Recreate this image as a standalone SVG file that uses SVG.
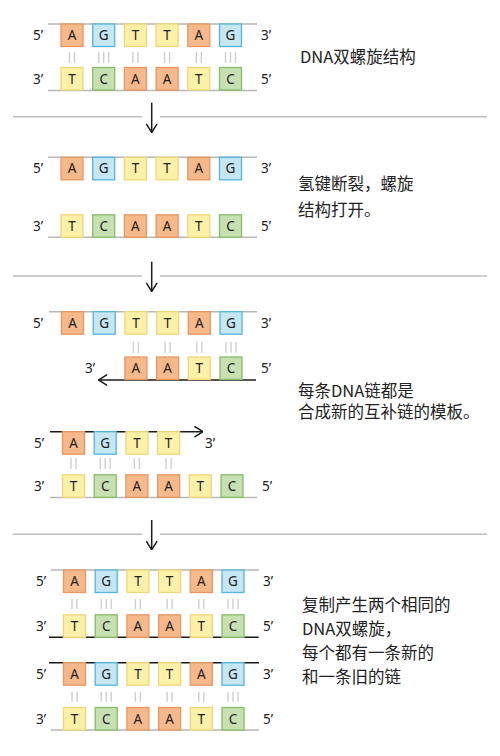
<svg xmlns="http://www.w3.org/2000/svg" width="500" height="756" viewBox="0 0 500 756">
<defs>
<style>
.bg{fill:#ffffff}
.b rect{stroke-width:1.3}
.A rect{fill:#f5b98c;stroke:#e8975f}
.G rect{fill:#c5e6f2;stroke:#55b5d6}
.T rect{fill:#fdf0a8;stroke:#efd777}
.C rect{fill:#c7e0b2;stroke:#88bd68}
.b text{font-family:"Noto Sans","Liberation Sans",sans-serif;font-size:13.5px;fill:#222;text-anchor:middle}
.lbl{font-family:"Noto Sans","Liberation Sans",sans-serif;font-size:13.5px;fill:#222}
.cn{font-family:"Noto Sans CJK SC","Noto Sans",sans-serif;font-size:16.5px;fill:#222}
.strand{stroke:#b7b7b7;stroke-width:1.6;fill:none}
.newstrand{stroke:#1a1a1a;stroke-width:1.6;fill:none}
.sep{stroke:#bdbdbd;stroke-width:1.6;fill:none}
.hb{stroke:#cfcfcf;stroke-width:1.4;fill:none}
.arr{stroke:#1a1a1a;stroke-width:1.5;fill:none}
</style>
<marker id="head" viewBox="0 0 10 12" refX="9.6" refY="6" markerWidth="10" markerHeight="12" markerUnits="userSpaceOnUse" orient="auto">
<path d="M1,0.6 L9.6,6 L1,11.4" fill="none" stroke="#1a1a1a" stroke-width="1.5"/>
</marker>
</defs>
<rect class="bg" width="500" height="756"/>

<g id="connectors">
<path class="sep" d="M13,116.7 H142 M160,116.7 H487"/>
<path class="sep" d="M13,276 H142 M160,276 H487"/>
<path class="sep" d="M13,534.3 H142 M160,534.3 H487"/>
<path class="arr" d="M151.7,102.7 V132.5" marker-end="url(#head)"/>
<path class="arr" d="M151.7,261.7 V291.5" marker-end="url(#head)"/>
<path class="arr" d="M151.7,520 V549.8" marker-end="url(#head)"/>
</g>

<g id="section1">
<path class="strand" d="M48,24 H257 M48,90.5 H257"/>
<path class="hb" d="M69.5,52V63 M74.5,52V63 M98.7,52V63 M103.7,52V63 M108.7,52V63 M132.9,52V63 M137.9,52V63 M164.6,52V63 M169.6,52V63 M196.3,52V63 M201.3,52V63 M225.5,52V63 M230.5,52V63 M235.5,52V63"/>
<g id="s1-top">
<g class="b A" transform="translate(61,24)"><rect width="22" height="22.5"/><text x="11" y="16">A</text></g>
<g class="b G" transform="translate(92.7,24)"><rect width="22" height="22.5"/><text x="11" y="16">G</text></g>
<g class="b T" transform="translate(124.4,24)"><rect width="22" height="22.5"/><text x="11" y="16">T</text></g>
<g class="b T" transform="translate(156.1,24)"><rect width="22" height="22.5"/><text x="11" y="16">T</text></g>
<g class="b A" transform="translate(187.8,24)"><rect width="22" height="22.5"/><text x="11" y="16">A</text></g>
<g class="b G" transform="translate(219.5,24)"><rect width="22" height="22.5"/><text x="11" y="16">G</text></g>
</g>
<g id="s1-bottom">
<g class="b T" transform="translate(61,67.5)"><rect width="22" height="22.5"/><text x="11" y="16">T</text></g>
<g class="b C" transform="translate(92.7,67.5)"><rect width="22" height="22.5"/><text x="11" y="16">C</text></g>
<g class="b A" transform="translate(124.4,67.5)"><rect width="22" height="22.5"/><text x="11" y="16">A</text></g>
<g class="b A" transform="translate(156.1,67.5)"><rect width="22" height="22.5"/><text x="11" y="16">A</text></g>
<g class="b T" transform="translate(187.8,67.5)"><rect width="22" height="22.5"/><text x="11" y="16">T</text></g>
<g class="b C" transform="translate(219.5,67.5)"><rect width="22" height="22.5"/><text x="11" y="16">C</text></g>
</g>
<text class="lbl" x="33" y="40">5’</text>
<text class="lbl" x="261" y="40">3’</text>
<text class="lbl" x="33" y="83.5">3’</text>
<text class="lbl" x="261" y="83.5">5’</text>
<text class="cn" x="300" y="62.5">DNA双螺旋结构</text>
</g>

<g id="section2">
<path class="strand" d="M48,157.3 H257 M48,237.3 H257"/>
<g id="s2-top">
<g class="b A" transform="translate(61,157.3)"><rect width="22" height="22.5"/><text x="11" y="16">A</text></g>
<g class="b G" transform="translate(92.7,157.3)"><rect width="22" height="22.5"/><text x="11" y="16">G</text></g>
<g class="b T" transform="translate(124.4,157.3)"><rect width="22" height="22.5"/><text x="11" y="16">T</text></g>
<g class="b T" transform="translate(156.1,157.3)"><rect width="22" height="22.5"/><text x="11" y="16">T</text></g>
<g class="b A" transform="translate(187.8,157.3)"><rect width="22" height="22.5"/><text x="11" y="16">A</text></g>
<g class="b G" transform="translate(219.5,157.3)"><rect width="22" height="22.5"/><text x="11" y="16">G</text></g>
</g>
<g id="s2-bottom">
<g class="b T" transform="translate(61,214.8)"><rect width="22" height="22.5"/><text x="11" y="16">T</text></g>
<g class="b C" transform="translate(92.7,214.8)"><rect width="22" height="22.5"/><text x="11" y="16">C</text></g>
<g class="b A" transform="translate(124.4,214.8)"><rect width="22" height="22.5"/><text x="11" y="16">A</text></g>
<g class="b A" transform="translate(156.1,214.8)"><rect width="22" height="22.5"/><text x="11" y="16">A</text></g>
<g class="b T" transform="translate(187.8,214.8)"><rect width="22" height="22.5"/><text x="11" y="16">T</text></g>
<g class="b C" transform="translate(219.5,214.8)"><rect width="22" height="22.5"/><text x="11" y="16">C</text></g>
</g>
<text class="lbl" x="33" y="173.3">5’</text>
<text class="lbl" x="261" y="173.3">3’</text>
<text class="lbl" x="33" y="230.8">3’</text>
<text class="lbl" x="261" y="230.8">5’</text>
<text class="cn" x="298" y="189.5">氢键断裂，螺旋</text>
<text class="cn" x="298" y="216">结构打开。</text>
</g>

<g id="section3">
<path class="strand" d="M49,311.7 H257"/>
<path class="newstrand" d="M256,380 H98.5" marker-end="url(#head)"/>
<path class="hb" d="M133.4,341.7V352.7 M138.4,341.7V352.7 M165.1,341.7V352.7 M170.1,341.7V352.7 M196.8,341.7V352.7 M201.8,341.7V352.7 M226,341.7V352.7 M231,341.7V352.7 M236,341.7V352.7"/>
<g id="s3-top">
<g class="b A" transform="translate(61.5,311.7)"><rect width="22" height="22.5"/><text x="11" y="16">A</text></g>
<g class="b G" transform="translate(93.2,311.7)"><rect width="22" height="22.5"/><text x="11" y="16">G</text></g>
<g class="b T" transform="translate(124.9,311.7)"><rect width="22" height="22.5"/><text x="11" y="16">T</text></g>
<g class="b T" transform="translate(156.6,311.7)"><rect width="22" height="22.5"/><text x="11" y="16">T</text></g>
<g class="b A" transform="translate(188.3,311.7)"><rect width="22" height="22.5"/><text x="11" y="16">A</text></g>
<g class="b G" transform="translate(220,311.7)"><rect width="22" height="22.5"/><text x="11" y="16">G</text></g>
</g>
<g id="s3-new1">
<g class="b A" transform="translate(124.9,357)"><rect width="22" height="22.5"/><text x="11" y="16">A</text></g>
<g class="b A" transform="translate(156.6,357)"><rect width="22" height="22.5"/><text x="11" y="16">A</text></g>
<g class="b T" transform="translate(188.3,357)"><rect width="22" height="22.5"/><text x="11" y="16">T</text></g>
<g class="b C" transform="translate(220,357)"><rect width="22" height="22.5"/><text x="11" y="16">C</text></g>
</g>
<text class="lbl" x="33" y="327.8">5’</text>
<text class="lbl" x="261" y="327.8">3’</text>
<text class="lbl" x="85" y="373">3’</text>
<text class="lbl" x="261" y="373">5’</text>

<path class="newstrand" d="M50,431.7 H203" marker-end="url(#head)"/>
<path class="strand" d="M50,497.5 H257"/>
<path class="hb" d="M71,458V469 M76,458V469 M100.2,458V469 M105.2,458V469 M110.2,458V469 M134.4,458V469 M139.4,458V469 M166.1,458V469 M171.1,458V469"/>
<g id="s3-new2">
<g class="b A" transform="translate(62.5,431.7)"><rect width="22" height="22.5"/><text x="11" y="16">A</text></g>
<g class="b G" transform="translate(94.2,431.7)"><rect width="22" height="22.5"/><text x="11" y="16">G</text></g>
<g class="b T" transform="translate(125.9,431.7)"><rect width="22" height="22.5"/><text x="11" y="16">T</text></g>
<g class="b T" transform="translate(157.6,431.7)"><rect width="22" height="22.5"/><text x="11" y="16">T</text></g>
</g>
<g id="s3-bottom">
<g class="b T" transform="translate(62.5,474.8)"><rect width="22" height="22.5"/><text x="11" y="16">T</text></g>
<g class="b C" transform="translate(94.2,474.8)"><rect width="22" height="22.5"/><text x="11" y="16">C</text></g>
<g class="b A" transform="translate(125.9,474.8)"><rect width="22" height="22.5"/><text x="11" y="16">A</text></g>
<g class="b A" transform="translate(157.6,474.8)"><rect width="22" height="22.5"/><text x="11" y="16">A</text></g>
<g class="b T" transform="translate(189.3,474.8)"><rect width="22" height="22.5"/><text x="11" y="16">T</text></g>
<g class="b C" transform="translate(221,474.8)"><rect width="22" height="22.5"/><text x="11" y="16">C</text></g>
</g>
<text class="lbl" x="34" y="447.8">5’</text>
<text class="lbl" x="205" y="447.8">3’</text>
<text class="lbl" x="34" y="490.8">3’</text>
<text class="lbl" x="262" y="490.8">5’</text>
<text class="cn" x="298" y="396.5">每条DNA链都是</text>
<text class="cn" x="298" y="418">合成新的互补链的模板。</text>
</g>

<g id="section4">
<path class="strand" d="M50.7,570 H259 M50.7,730 H259"/>
<path class="newstrand" d="M49,637.3 H258.7 M49,662.7 H259"/>
<path class="hb" d="M72,599V609 M77,599V609 M101.2,599V609 M106.2,599V609 M111.2,599V609 M135.4,599V609 M140.4,599V609 M167.1,599V609 M172.1,599V609 M198.8,599V609 M203.8,599V609 M228,599V609 M233,599V609 M238,599V609"/>
<path class="hb" d="M72,691.7V701.7 M77,691.7V701.7 M101.2,691.7V701.7 M106.2,691.7V701.7 M111.2,691.7V701.7 M135.4,691.7V701.7 M140.4,691.7V701.7 M167.1,691.7V701.7 M172.1,691.7V701.7 M198.8,691.7V701.7 M203.8,691.7V701.7 M228,691.7V701.7 M233,691.7V701.7 M238,691.7V701.7"/>
<g id="s4-h1-top">
<g class="b A" transform="translate(63.5,570)"><rect width="22" height="22.5"/><text x="11" y="16">A</text></g>
<g class="b G" transform="translate(95.2,570)"><rect width="22" height="22.5"/><text x="11" y="16">G</text></g>
<g class="b T" transform="translate(126.9,570)"><rect width="22" height="22.5"/><text x="11" y="16">T</text></g>
<g class="b T" transform="translate(158.6,570)"><rect width="22" height="22.5"/><text x="11" y="16">T</text></g>
<g class="b A" transform="translate(190.3,570)"><rect width="22" height="22.5"/><text x="11" y="16">A</text></g>
<g class="b G" transform="translate(222,570)"><rect width="22" height="22.5"/><text x="11" y="16">G</text></g>
</g>
<g id="s4-h1-bottom">
<g class="b T" transform="translate(63.5,614.8)"><rect width="22" height="22.5"/><text x="11" y="16">T</text></g>
<g class="b C" transform="translate(95.2,614.8)"><rect width="22" height="22.5"/><text x="11" y="16">C</text></g>
<g class="b A" transform="translate(126.9,614.8)"><rect width="22" height="22.5"/><text x="11" y="16">A</text></g>
<g class="b A" transform="translate(158.6,614.8)"><rect width="22" height="22.5"/><text x="11" y="16">A</text></g>
<g class="b T" transform="translate(190.3,614.8)"><rect width="22" height="22.5"/><text x="11" y="16">T</text></g>
<g class="b C" transform="translate(222,614.8)"><rect width="22" height="22.5"/><text x="11" y="16">C</text></g>
</g>
<g id="s4-h2-top">
<g class="b A" transform="translate(63.5,662.7)"><rect width="22" height="22.5"/><text x="11" y="16">A</text></g>
<g class="b G" transform="translate(95.2,662.7)"><rect width="22" height="22.5"/><text x="11" y="16">G</text></g>
<g class="b T" transform="translate(126.9,662.7)"><rect width="22" height="22.5"/><text x="11" y="16">T</text></g>
<g class="b T" transform="translate(158.6,662.7)"><rect width="22" height="22.5"/><text x="11" y="16">T</text></g>
<g class="b A" transform="translate(190.3,662.7)"><rect width="22" height="22.5"/><text x="11" y="16">A</text></g>
<g class="b G" transform="translate(222,662.7)"><rect width="22" height="22.5"/><text x="11" y="16">G</text></g>
</g>
<g id="s4-h2-bottom">
<g class="b T" transform="translate(63.5,707.5)"><rect width="22" height="22.5"/><text x="11" y="16">T</text></g>
<g class="b C" transform="translate(95.2,707.5)"><rect width="22" height="22.5"/><text x="11" y="16">C</text></g>
<g class="b A" transform="translate(126.9,707.5)"><rect width="22" height="22.5"/><text x="11" y="16">A</text></g>
<g class="b A" transform="translate(158.6,707.5)"><rect width="22" height="22.5"/><text x="11" y="16">A</text></g>
<g class="b T" transform="translate(190.3,707.5)"><rect width="22" height="22.5"/><text x="11" y="16">T</text></g>
<g class="b C" transform="translate(222,707.5)"><rect width="22" height="22.5"/><text x="11" y="16">C</text></g>
</g>
<text class="lbl" x="36" y="586">5’</text>
<text class="lbl" x="263" y="586">3’</text>
<text class="lbl" x="36" y="630.8">3’</text>
<text class="lbl" x="263" y="630.8">5’</text>
<text class="lbl" x="36" y="678.7">5’</text>
<text class="lbl" x="263" y="678.7">3’</text>
<text class="lbl" x="36" y="723.5">3’</text>
<text class="lbl" x="263" y="723.5">5’</text>
<text class="cn" x="302" y="610.5">复制产生两个相同的</text>
<text class="cn" x="302" y="635">DNA双螺旋，</text>
<text class="cn" x="302" y="659">每个都有一条新的</text>
<text class="cn" x="302" y="682.5">和一条旧的链</text>
</g>
</svg>
